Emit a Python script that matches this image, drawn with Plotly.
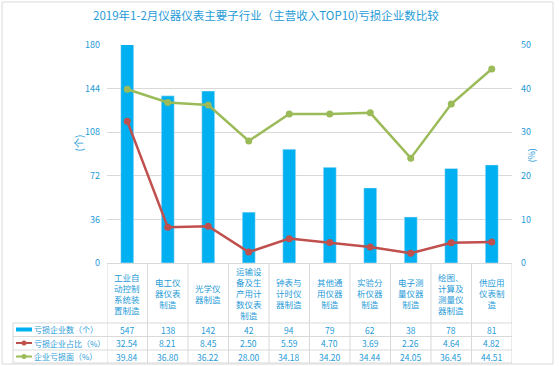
import plotly.graph_objects as go

categories = ["工业自<br>动控制<br>系统装<br>置制造", "电工仪<br>器仪表<br>制造", "光学仪<br>器制造",
              "运输设<br>备及生<br>产用计<br>数仪表<br>制造", "钟表与<br>计时仪<br>器制造", "其他通<br>用仪器<br>制造",
              "实验分<br>析仪器<br>制造", "电子测<br>量仪器<br>制造", "绘图、<br>计算及<br>测量仪<br>器制造", "供应用<br>仪表制<br>造"]
loss_count = [547, 138, 142, 42, 94, 79, 62, 38, 78, 81]
loss_share = [32.54, 8.21, 8.45, 2.50, 5.59, 4.70, 3.69, 2.26, 4.64, 4.82]
loss_ratio = [39.84, 36.80, 36.22, 28.00, 34.18, 34.20, 34.44, 24.05, 36.45, 44.51]
series_names = ["亏损企业数（个）", "亏损企业占比（%）", "企业亏损面（%）"]
left_ticks = [0, 36, 72, 108, 144, 180]
right_ticks = [0, 10, 20, 30, 40, 50]
title = "2019年1-2月仪器仪表主要子行业（主营收入TOP10)亏损企业数比较"

BLUE = "#00B0F0"
RED = "#C0504D"
GREEN = "#9BBB59"
TXT = "#1F9BD7"
GRID = "#D9D9D9"
FONT = "Noto Sans CJK SC"

W, H = 559, 366
L, R, T, B = 107, 512, 45, 263
pw, ph = R - L, B - T

def px(x):
    return (x - L) / pw

def py(y):
    return (B - y) / ph

n = len(categories)
idx = list(range(n))

fig = go.Figure()
fig.add_trace(go.Bar(x=idx, y=loss_count, name=series_names[0], marker_color=BLUE,
                     width=0.32, yaxis="y"))
fig.add_trace(go.Scatter(x=idx, y=loss_share, name=series_names[1], yaxis="y2", mode="lines+markers",
                         line=dict(color=RED, width=2.5), marker=dict(color=RED, size=7)))
fig.add_trace(go.Scatter(x=idx, y=loss_ratio, name=series_names[2], yaxis="y2", mode="lines+markers",
                         line=dict(color=GREEN, width=2.5), marker=dict(color=GREEN, size=7)))

shapes = []
annotations = []

# outer border
shapes.append(dict(type="rect", xref="paper", yref="paper", x0=px(2), x1=px(553), y0=py(364), y1=py(2),
                   line=dict(color=GRID, width=1), layer="below"))

# table vertical lines
for i in range(n + 1):
    shapes.append(dict(type="line", xref="x", yref="paper", x0=i - 0.5, x1=i - 0.5, y0=py(363), y1=py(263),
                       line=dict(color=GRID, width=1)))
# legend column left border
shapes.append(dict(type="line", xref="paper", yref="paper", x0=px(13), x1=px(13), y0=py(363), y1=py(323),
                   line=dict(color=GRID, width=1)))
# table horizontal lines
for yy in [323, 336.5, 350, 363]:
    shapes.append(dict(type="line", xref="paper", yref="paper", x0=px(13), x1=1, y0=py(yy), y1=py(yy),
                       line=dict(color=GRID, width=1)))

# category labels
for i, c in enumerate(categories):
    annotations.append(dict(x=i, y=py(293), xref="x", yref="paper", text=c, showarrow=False,
                            font=dict(family=FONT, size=8.5, color=TXT), yanchor="middle", xanchor="center"))

rows_y = [329.5, 343, 356.5]
for r, vals in enumerate([loss_count, loss_share, loss_ratio]):
    for i, v in enumerate(vals):
        txt = str(v) if r == 0 else f"{v:.2f}"
        annotations.append(dict(x=i, y=py(rows_y[r]), xref="x", yref="paper", text=txt, showarrow=False,
                                font=dict(family=FONT, size=8.5, color=TXT), yanchor="middle", xanchor="center"))
    annotations.append(dict(x=px(32), y=py(rows_y[r]), xref="paper", yref="paper", text=series_names[r],
                            showarrow=False, font=dict(family=FONT, size=8, color=TXT),
                            yanchor="middle", xanchor="left"))

# legend glyphs
shapes.append(dict(type="rect", xref="paper", yref="paper", x0=px(16), x1=px(32), y0=py(rows_y[0] + 2),
                   y1=py(rows_y[0] - 2), fillcolor=BLUE, line=dict(width=0)))
for r, col in [(1, RED), (2, GREEN)]:
    shapes.append(dict(type="line", xref="paper", yref="paper", x0=px(16), x1=px(32), y0=py(rows_y[r]),
                       y1=py(rows_y[r]), line=dict(color=col, width=2)))
    shapes.append(dict(type="circle", xref="paper", yref="paper", x0=px(21.5), x1=px(26.5),
                       y0=py(rows_y[r] + 2.5), y1=py(rows_y[r] - 2.5), fillcolor=col, line=dict(width=0)))

# axis titles
annotations.append(dict(x=px(68), y=py(143), xref="paper", yref="paper", text="(个)", showarrow=False,
                        textangle=-90, font=dict(family=FONT, size=10, color=TXT)))
annotations.append(dict(x=px(539), y=py(156), xref="paper", yref="paper", text="(%)", showarrow=False,
                        textangle=-90, font=dict(family=FONT, size=9, color=TXT)))
# title
annotations.append(dict(x=px(266), y=py(15), xref="paper", yref="paper", text=title, showarrow=False,
                        font=dict(family=FONT, size=11.5, color=TXT), xanchor="center", yanchor="middle"))

fig.update_layout(
    width=W, height=H, margin=dict(l=L, r=W - R, t=T, b=H - B),
    paper_bgcolor="white", plot_bgcolor="white", showlegend=False,
    font=dict(family=FONT, size=9, color=TXT),
    xaxis=dict(range=[-0.5, n - 0.5], showticklabels=False, showgrid=False, zeroline=False,
               showline=True, linecolor=GRID, linewidth=1, fixedrange=True),
    yaxis=dict(range=[0, 180], tickvals=left_ticks, showgrid=True, gridcolor=GRID, gridwidth=1,
               zeroline=False, showline=False, tickfont=dict(family=FONT, size=9, color=TXT),
               ticklabelstandoff=6),
    yaxis2=dict(range=[0, 50], tickvals=right_ticks, overlaying="y", side="right", showgrid=False,
                zeroline=False, showline=False, tickfont=dict(family=FONT, size=9, color=TXT),
                ticklabelstandoff=8),
    shapes=shapes, annotations=annotations,
)

fig.write_html("out.html", config={"displayModeBar": False},
               post_script="document.body.style.margin='0';document.body.style.overflow='hidden';")
